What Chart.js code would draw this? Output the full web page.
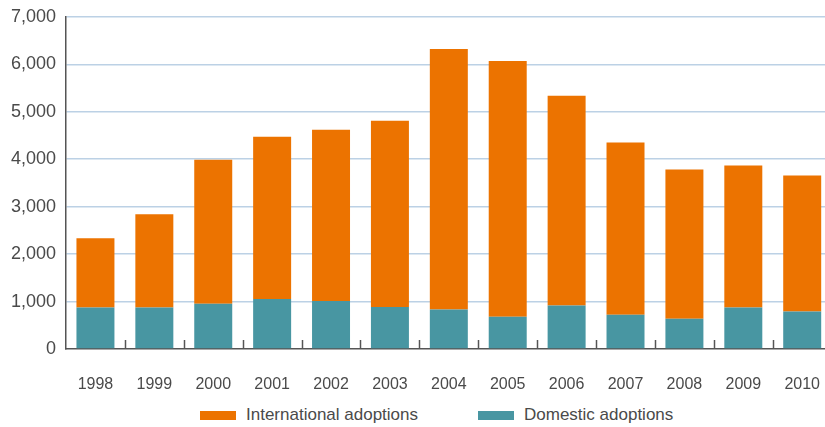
<!DOCTYPE html>
<html lang="en">
<head>
    <meta charset="UTF-8">
    <title>Adoptions 1998-2010</title>
    <script src="https://cdn.jsdelivr.net/npm/chart.js"></script>
    <style>
        html, body { margin: 0; padding: 0; background: #fff; }
        .wrap { position: relative; width: 825px; height: 427px; overflow: hidden; font-family: "Liberation Sans", Arial, sans-serif; }
        .chart-box { position: absolute; left: 0; top: -4px; width: 838px; height: 400px; }
        .legend { position: absolute; left: 0; top: 404px; width: 825px; height: 22px; }
        .legend .item { position: absolute; top: 0; display: flex; align-items: center; height: 22px; color: #4a4a4a; font-size: 17px; }
        .legend .swatch { display: inline-block; width: 36px; height: 9px; margin-right: 10px; }
    </style>
</head>
<body>
    <div class="wrap">
        <div class="chart-box"><canvas id="chart"></canvas></div>
        <div class="legend">
            <div class="item" style="left:200px"><span class="swatch" style="background:#ec7300"></span>International adoptions</div>
            <div class="item" style="left:478px"><span class="swatch" style="background:#4896a2"></span>Domestic adoptions</div>
        </div>
    </div>

    <script>
        const years = ['1998', '1999', '2000', '2001', '2002', '2003', '2004', '2005', '2006', '2007', '2008', '2009', '2010'];
        const domestic = [875, 875, 955, 1055, 1010, 885, 830, 680, 915, 720, 635, 875, 790];
        const international = [1460, 1965, 3035, 3420, 3610, 3925, 5490, 5390, 4420, 3630, 3145, 2990, 2865];
        const yTicks = [0, 1000, 2000, 3000, 4000, 5000, 6000, 7000];

        // small tick marks between categories, pointing up into the plot
        const categoryTicks = {
            id: 'categoryTicks',
            afterDatasetsDraw(chart) {
                const x = chart.scales.x;
                const bottom = chart.chartArea.bottom;
                const ctx = chart.ctx;
                ctx.save();
                ctx.strokeStyle = '#555';
                ctx.lineWidth = 1.5;
                for (let i = 0; i < years.length - 1; i++) {
                    const px = Math.round((x.getPixelForValue(i) + x.getPixelForValue(i + 1)) / 2) + 0.5;
                    ctx.beginPath();
                    ctx.moveTo(px, bottom - 9);
                    ctx.lineTo(px, bottom);
                    ctx.stroke();
                }
                ctx.restore();
            }
        };

        new Chart(document.getElementById('chart'), {
            type: 'bar',
            data: {
                labels: years,
                datasets: [
                    {
                        label: 'Domestic adoptions',
                        data: domestic,
                        backgroundColor: '#4896a2',
                        barPercentage: 0.645,
                        categoryPercentage: 1
                    },
                    {
                        label: 'International adoptions',
                        data: international,
                        backgroundColor: '#ec7300',
                        barPercentage: 0.645,
                        categoryPercentage: 1
                    }
                ]
            },
            options: {
                responsive: true,
                maintainAspectRatio: false,
                animation: false,
                layout: { padding: { top: 2, right: 0, left: 0, bottom: 0 } },
                plugins: {
                    legend: { display: false },
                    tooltip: { enabled: false }
                },
                scales: {
                    x: {
                        stacked: true,
                        grid: { display: false },
                        border: { color: '#555', width: 1.5 },
                        ticks: {
                            color: '#4a4a4a',
                            padding: 18,
                            font: { family: '"Liberation Sans", Arial, sans-serif', size: 16 }
                        },
                        afterFit(scale) { scale.height = 47; }
                    },
                    y: {
                        stacked: true,
                        min: 0,
                        max: 7000,
                        afterBuildTicks(scale) { scale.ticks = yTicks.map(v => ({ value: v })); },
                        grid: {
                            drawTicks: false,
                            lineWidth: 1.5,
                            color: c => c.tick && c.tick.value === 0 ? 'rgba(0,0,0,0)' : '#bcd1e5'
                        },
                        border: { color: '#555', width: 1.5 },
                        ticks: {
                            color: '#4a4a4a',
                            padding: 10,
                            font: { family: '"Liberation Sans", Arial, sans-serif', size: 18 },
                            callback: v => v.toLocaleString('en-US')
                        },
                        afterFit(scale) { scale.width = 66; }
                    }
                }
            },
            plugins: [categoryTicks]
        });
    </script>
</body>
</html>
